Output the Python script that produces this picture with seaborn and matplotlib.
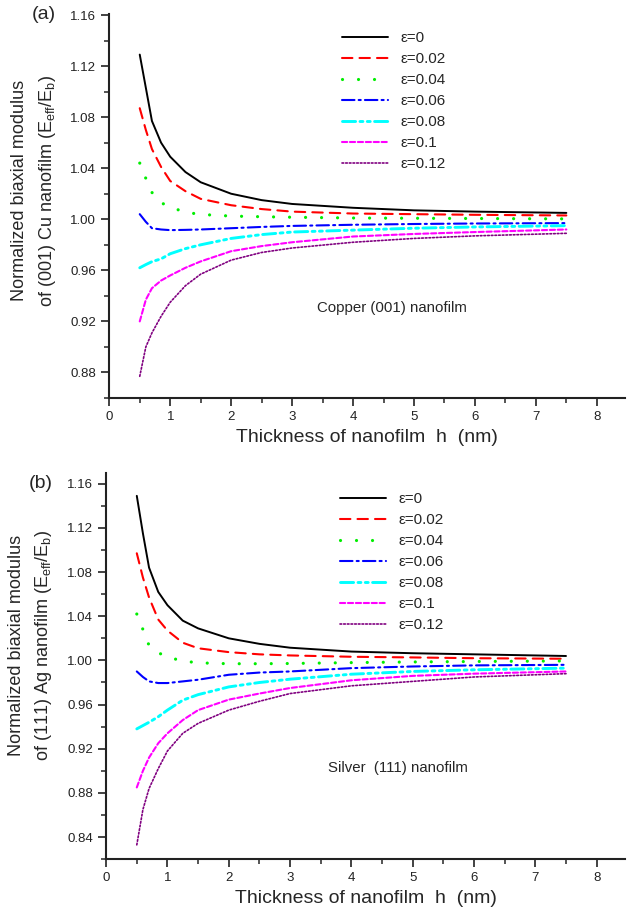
import numpy as np
import pandas as pd
import seaborn as sns
import matplotlib.pyplot as plt
from matplotlib.ticker import MultipleLocator, FormatStrFormatter

# thickness grid (nm)
h = [0.5, 0.6, 0.7, 0.85, 1.0, 1.25, 1.5, 2.0, 2.5, 3.0, 4.0, 5.0, 6.0, 7.5]
strains = ['0', '0.02', '0.04', '0.06', '0.08', '0.1', '0.12']

# (a) Copper (001)
cu_e0 = [1.129, 1.103, 1.077, 1.060, 1.049, 1.037, 1.029, 1.020, 1.015, 1.012, 1.009, 1.007, 1.006, 1.005]
cu_e002 = [1.087, 1.070, 1.055, 1.041, 1.030, 1.022, 1.016, 1.011, 1.008, 1.006, 1.0045, 1.004, 1.0035, 1.003]
cu_e004 = [1.044, 1.032, 1.021, 1.013, 1.0095, 1.0055, 1.0038, 1.0025, 1.002, 1.0016, 1.001, 1.0008, 1.0006, 1.0003]
cu_e006 = [1.004, 0.998, 0.993, 0.992, 0.9915, 0.9917, 0.992, 0.993, 0.994, 0.9948, 0.9957, 0.9963, 0.9967, 0.997]
cu_e008 = [0.962, 0.9645, 0.9668, 0.969, 0.973, 0.977, 0.980, 0.985, 0.988, 0.990, 0.9915, 0.993, 0.994, 0.995]
cu_e010 = [0.920, 0.937, 0.946, 0.952, 0.956, 0.962, 0.967, 0.975, 0.979, 0.982, 0.9865, 0.9885, 0.990, 0.992]
cu_e012 = [0.877, 0.900, 0.911, 0.924, 0.935, 0.948, 0.957, 0.968, 0.974, 0.9775, 0.982, 0.985, 0.987, 0.989]

# (b) Silver (111)
ag_e0 = [1.149, 1.115, 1.084, 1.062, 1.050, 1.036, 1.029, 1.020, 1.015, 1.0115, 1.008, 1.0065, 1.0055, 1.004]
ag_e002 = [1.097, 1.075, 1.057, 1.037, 1.027, 1.016, 1.011, 1.0075, 1.0055, 1.0045, 1.0033, 1.0027, 1.002, 1.0015]
ag_e004 = [1.042, 1.028, 1.0135, 1.007, 1.003, 0.9995, 0.9978, 0.997, 0.997, 0.9972, 0.998, 0.9986, 0.999, 0.9995]
ag_e006 = [0.990, 0.985, 0.981, 0.9795, 0.9795, 0.981, 0.9825, 0.987, 0.989, 0.990, 0.993, 0.9945, 0.9955, 0.996]
ag_e008 = [0.938, 0.941, 0.944, 0.949, 0.955, 0.964, 0.969, 0.976, 0.980, 0.983, 0.9875, 0.990, 0.9915, 0.993]
ag_e010 = [0.885, 0.900, 0.912, 0.925, 0.934, 0.946, 0.955, 0.9645, 0.970, 0.975, 0.982, 0.986, 0.988, 0.990]
ag_e012 = [0.833, 0.865, 0.884, 0.902, 0.918, 0.934, 0.943, 0.955, 0.963, 0.970, 0.977, 0.981, 0.985, 0.988]

cu_series = [cu_e0, cu_e002, cu_e004, cu_e006, cu_e008, cu_e010, cu_e012]
ag_series = [ag_e0, ag_e002, ag_e004, ag_e006, ag_e008, ag_e010, ag_e012]

colors = ['black', '#ff0000', '#00ee00', '#0000ff', '#00ffff', '#ff00ff', '#800080']
styles = ['-', (0, (5, 3.4)), (0, (0.01, 5)), (0, (6, 2, 1, 2)),
          (0, (4.5, 1.5, 1, 1.5, 1, 1.5)), (0, (2.5, 1.3)), (0, (1, 1.2))]
widths = [1.4, 1.5, 2.3, 1.5, 2.1, 1.5, 1.2]

sns.set_style('ticks')
plt.rcParams['font.family'] = ['Liberation Sans', 'DejaVu Sans']
plt.rcParams['mathtext.default'] = 'regular'

fig = plt.figure(figsize=(6.28, 9.16), dpi=100)
ax1 = fig.add_axes([0.174, 0.5655, 0.821, 0.4195])
ax2 = fig.add_axes([0.169, 0.062, 0.826, 0.422])


def draw_panel(ax, series, ylim, ylabel, note, note_xy, tag, tag_y, label_y, leg_y):
    for i, vals in enumerate(series):
        df = pd.DataFrame({'h': h, 'E': vals})
        sns.lineplot(data=df, x='h', y='E', ax=ax, color=colors[i], lw=widths[i],
                     linestyle=styles[i], dash_capstyle='round',
                     label='\u03b5=' + strains[i])
    ax.set_xlim(0, 8.46)
    ax.set_ylim(*ylim)
    ax.xaxis.set_major_locator(MultipleLocator(1))
    ax.xaxis.set_minor_locator(MultipleLocator(0.5))
    ax.yaxis.set_major_locator(MultipleLocator(0.04))
    ax.yaxis.set_minor_locator(MultipleLocator(0.02))
    ax.yaxis.set_major_formatter(FormatStrFormatter('%.2f'))
    ax.tick_params(which='major', length=6, width=1.2, labelsize=9.5, colors='#222222')
    ax.tick_params(which='minor', length=3.5, width=1.1)
    for s in ['left', 'bottom']:
        ax.spines[s].set_linewidth(1.5)
        ax.spines[s].set_color('#222222')
    sns.despine(ax=ax)
    ax.set_xlabel('Thickness of nanofilm  h  (nm)', fontsize=14, labelpad=4)
    ax.set_ylabel(ylabel, fontsize=13, linespacing=1.55)
    ax.yaxis.set_label_coords(-0.10, label_y)
    ax.text(note_xy[0], note_xy[1], note, fontsize=10.8, va='center')
    ax.text(-0.126, tag_y, tag, transform=ax.transAxes, fontsize=14, va='center', ha='center')
    ax.legend(loc='upper left', bbox_to_anchor=(0.425, leg_y), frameon=False,
              fontsize=11, handlelength=3.0, labelspacing=0.46, handletextpad=0.8)


draw_panel(ax1, cu_series, (0.86, 1.161),
           'Normalized biaxial modulus\nof (001) Cu nanofilm ($E_{eff}/E_b$)',
           'Copper (001) nanofilm', (3.41, 0.9306), '(a)', 0.997, 0.54, 0.99)
draw_panel(ax2, ag_series, (0.82, 1.17),
           'Normalized biaxial modulus\nof (111) Ag nanofilm ($E_{eff}/E_b$)',
           'Silver  (111) nanofilm', (3.62, 0.903), '(b)', 0.971, 0.554, 0.985)

fig.savefig('out.png', dpi=100)
